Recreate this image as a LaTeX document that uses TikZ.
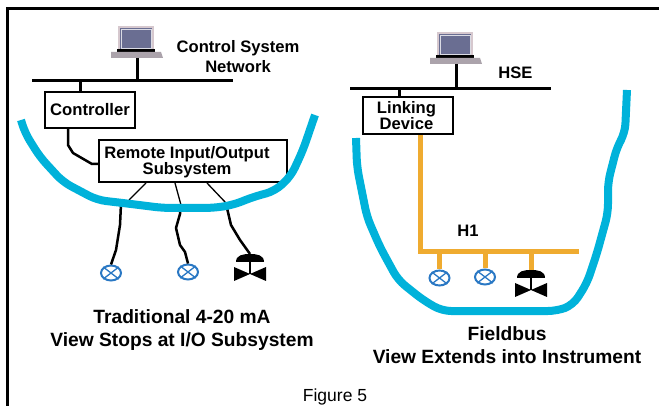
\documentclass[tikz,border=0pt]{standalone}
\usepackage{fontspec}
\setmainfont{Liberation Sans}
\definecolor{cy}{HTML}{00B2DA}
\definecolor{org}{HTML}{EFAB30}
\definecolor{blu}{HTML}{2A78C4}
\definecolor{lid}{HTML}{D6C8CE}
\definecolor{scr}{HTML}{6A6E92}
\definecolor{kbd}{HTML}{ABA3AB}
\tikzset{
  x=1pt,y=-1pt,
  frame/.style={line width=3pt,black},
  bus/.style={line width=3pt,black},
  boxn/.style={draw=black,line width=2pt,fill=white,inner sep=0pt,align=center,font=\fontsize{16.7}{13}\selectfont\bfseries},
  lab/.style={inner sep=0pt,align=center,font=\fontsize{16.6}{20}\selectfont\bfseries},
  capt/.style={inner sep=0pt,align=center,font=\fontsize{19.2}{23}\selectfont\bfseries},
  scope line/.style={line width=8pt,cy,line join=round,rounded corners=9pt},
  thinw/.style={line width=1.3pt,black},
  thickw/.style={line width=2.5pt,black,line join=round},
  orgl/.style={line width=5pt,org},
  transm/.style={draw=blu,line width=2pt,fill=white,ellipse,minimum width=20pt,minimum height=15pt,inner sep=0pt},
  pics/laptop/.style={code={
    \fill[lid] (-19,-32) rectangle (17,-8);
    \fill[scr] (-17,-30) rectangle (15,-9);
    \draw[white!75!scr,line width=.5pt] (-16,-29) rectangle (14,-10);
    \fill[black] (-20,-9) rectangle (18,-6);
    \fill[kbd] (-26,-6) -- (24,-6) -- (26,0) -- (-26,0) -- cycle;
  }},
  pics/valve/.style={code={
    \fill[black] (-14,8) .. controls (-14,1) and (-7,0) .. (0,0) .. controls (7,0) and (14,1) .. (14,8) -- cycle;
    \draw[black,line width=1.2pt] (0,5) -- (0,20);
    \fill[black] (-16,13) -- (0,20) -- (16,13) -- (16,27) -- (0,20) -- (-16,27) -- cycle;
  }},
}
\usetikzlibrary{shapes.geometric}
\begin{document}
\begin{tikzpicture}
\useasboundingbox (0,0) rectangle (659,406);
% frame
\coordinate (f1) at (7.5,406); \coordinate (f2) at (7.5,8.5); \coordinate (f3) at (659,8.5);
\draw[frame] (f1) -- (f2) -- (f3);

% --- left
\pic at (137,58) {laptop};
\coordinate (lapA) at (137,58);
\coordinate (busA1) at (32,81); \coordinate (busA2) at (233,81);
\coordinate (busAs) at (137,81); \coordinate (busAc) at (80,81);
\draw[bus] (busA1) -- (busA2);
\draw[bus] (lapA) -- (busAs);
\node[boxn,minimum width=90pt,minimum height=36pt] (ctrl) at (90,110) {Controller};
\draw[bus] (busAc) -- (ctrl.north -| busAc);
\node[boxn,minimum width=188pt,minimum height=42pt] (rio) at (193,161) {};
\node[inner sep=0pt,align=center,font=\fontsize{16.6}{13.5}\selectfont\bfseries] (riot) at (187,162) {Remote Input/Output\\[-.5pt]Subsystem};
\draw[thickw] (ctrl.south -| 68,0) -- (68,145) -- (73,153) -- (92,164) -- (rio.west |- 0,164);

% field devices left
\node[transm] (tA) at (111,273) {};
\node[transm] (tB) at (188,272) {};
\foreach \n in {tA,tB}{
  \draw[blu,line width=1.3pt] (\n.north west) -- (\n.south east) (\n.north east) -- (\n.south west);
}
\pic at (250,254) {valve};
\coordinate (vA) at (250,254);
\draw[thinw] (rio.south -| 146,0) -- (129,200);
\draw[thinw] (rio.south -| 175,0) -- (181,205);
\draw[thinw] (rio.south -| 207,0) -- (226,203);
\draw[thickw] (121,204) -- (120,225) -- (116,250) -- (tA.north);
\draw[thickw] (180,208) -- (180,214) -- (176,228) -- (180,245) -- (185,252) -- (tB.north);
\draw[thickw] (227,208) -- (231,225) -- (240,240) -- (vA);

% scope left
\draw[scope line] (21,120) -- (25,133) -- (40,157) -- (63,182) -- (97,200) -- (123,203) -- (163,208) -- (213,208) -- (233,205) -- (253,197) -- (275,191) -- (291,176) -- (303,150) -- (315,115);

% --- right
\pic at (456,64) {laptop};
\coordinate (lapB) at (456,64);
\coordinate (busB1) at (350,88.5); \coordinate (busB2) at (551,88.5);
\coordinate (busBs) at (456,88.5); \coordinate (busBc) at (399.5,88.5);
\draw[bus] (busB1) -- (busB2);
\draw[bus] (lapB) -- (busBs);
\node[boxn,minimum width=90pt,minimum height=37pt] (link) at (408,116) {};
\node[inner sep=0pt,align=center,font=\fontsize{16.6}{16.5}\selectfont\bfseries] (linkt) at (406.5,115.5) {Linking\\Device};
\draw[bus] (busBc) -- (link.north -| busBc);

\coordinate (h1L) at (420.5,252); \coordinate (h1R) at (579,252);
\draw[orgl] (link.south -| h1L) -- (h1L) -- (h1R);
\node[transm] (tC) at (439.5,278) {};
\node[transm] (tD) at (485,277) {};
\foreach \n in {tC,tD}{
  \draw[blu,line width=1.3pt] (\n.north west) -- (\n.south east) (\n.north east) -- (\n.south west);
}
\draw[orgl] (h1L -| tC) -- (tC.north);
\draw[orgl] (h1L -| tD) -- (tD.north);
\pic at (531,270) {valve};
\coordinate (vB) at (531.5,270);
\draw[orgl] (h1L -| vB) -- (vB);

\draw[scope line] (356,138) -- (357,167) -- (363,197) -- (367,217) -- (380,247) -- (398,280) -- (423,300) -- (442,311) -- (557,311) -- (573,305) -- (587,283) -- (597,253) -- (608,213) -- (608,182) -- (617,147) -- (625,133) -- (627,90);

% labels
\node[lab] (csn) at (238,57) {Control System\\Network};
\node[lab] (hse) at (515.5,73) {HSE};
\node[lab] (h1) at (468,231) {H1};
\node[capt] (c1) at (182,330.5) {Traditional 4-20 mA\\View Stops at I/O Subsystem};
\node[capt] (c2) at (507,345.5) {Fieldbus\\View Extends into Instrument};
\node[inner sep=0pt,font=\fontsize{17.5}{18}\selectfont] (fig) at (335,397) {Figure 5};
\end{tikzpicture}
\end{document}
